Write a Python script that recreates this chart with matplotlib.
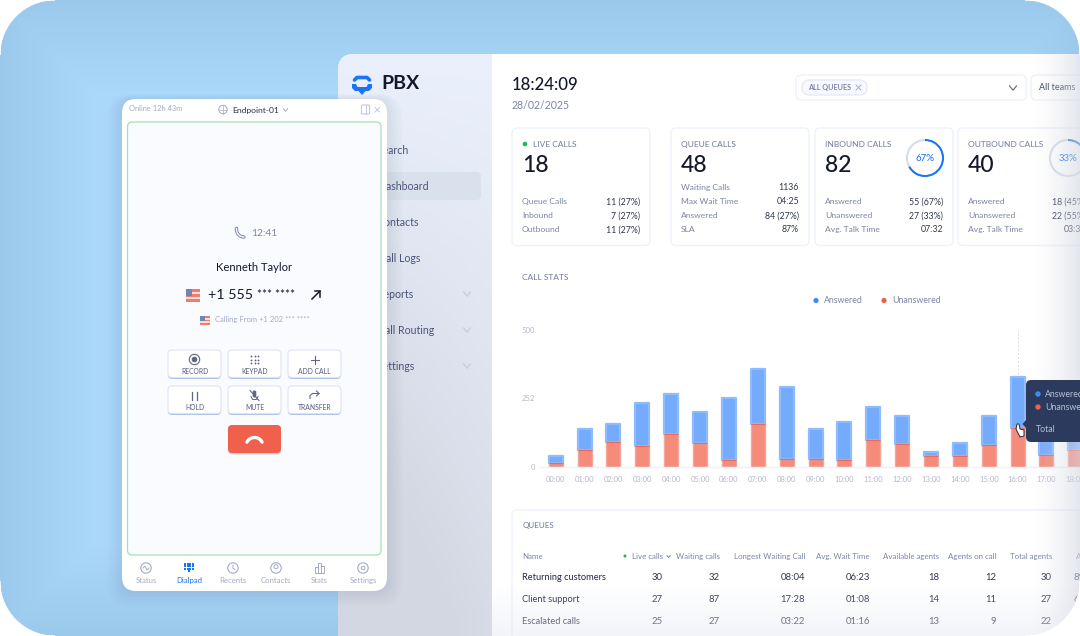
import numpy as np
import matplotlib
matplotlib.use('Agg')
import matplotlib.pyplot as plt
from matplotlib.patches import FancyBboxPatch, Circle, Rectangle, Wedge, PathPatch, Polygon
from matplotlib.path import Path

plt.rcParams['font.family'] = ['Lato', 'DejaVu Sans']

# datos del grafico
hours = ['00:00', '01:00', '02:00', '03:00', '04:00', '05:00', '06:00', '07:00', '08:00', '09:00',
         '10:00', '11:00', '12:00', '13:00', '14:00', '15:00', '16:00', '17:00', '18:00']
answered = [24, 77, 67, 156, 147, 113, 226, 198, 264, 109, 140, 120, 103, 13, 49, 107, 185, 150, 120]
unanswered = [15, 60, 90, 75, 120, 88, 23, 157, 27, 27, 23, 97, 82, 40, 39, 78, 142, 43, 61]
y_ticks = [0, 252, 500]

# tarjetas
live_rows = [('Queue Calls', '11 (27%)'), ('Inbound', '7 (27%)'), ('Outbound', '11 (27%)')]
queue_rows = [('Waiting Calls', '1136'), ('Max Wait Time', '04:25'), ('Answered', '84 (27%)'), ('SLA', '87%')]
inbound_rows = [('Answered', '55 (67%)'), ('Unanswered', '27 (33%)'), ('Avg. Talk Time', '07:32')]
outbound_rows = [('Answered', '18 (45%)'), ('Unanswered', '22 (55%)'), ('Avg. Talk Time', '03:32')]

# tabla de colas
table_head = ['Live calls', 'Waiting calls', 'Longest Waiting Call', 'Avg. Wait Time',
              'Available agents', 'Agents on call', 'Total agents']
table_names = ['Returning customers', 'Client support', 'Escalated calls']
table_rows = [['30', '32', '08:04', '06:23', '18', '12', '30'],
              ['27', '87', '17:28', '01:08', '14', '11', '27'],
              ['25', '27', '03:22', '01:16', '13', '9', '22']]
table_last = ['89%', '67%', '']

# menu lateral
menu_items = ['Search', 'Dashboard', 'Contacts', 'Call Logs', 'Reports', 'Call Routing', 'Settings']
menu_ends = [409, 429, 419, 420, 413, 434, 415]

# telefono
phone_buttons = ['RECORD', 'KEYPAD', 'ADD CALL', 'HOLD', 'MUTE', 'TRANSFER']
nav_items = ['Status', 'Dialpad', 'Recents', 'Contacts', 'Stats', 'Settings']

INK = '#14182B'
GREY = '#7C84A3'
LIGHT = '#A4ABC4'
BORDER = '#EEF2FB'
BLUE = '#1B74F5'
RED = '#F0604C'

W, H = 1080, 636
fig = plt.figure(figsize=(W / 100, H / 100), dpi=100, facecolor='white')


def pixel_axes(z):
    ax = fig.add_axes([0, 0, 1, 1], zorder=z)
    ax.set_xlim(0, W)
    ax.set_ylim(H, 0)
    ax.axis('off')
    ax.patch.set_alpha(0)
    return ax


bg = pixel_axes(1)
top = pixel_axes(3)


def box(ax, x0, y0, x1, y1, r, fc, ec='none', lw=0.0, z=2, alpha=None):
    p = FancyBboxPatch((x0 + r, y0 + r), x1 - x0 - 2 * r, y1 - y0 - 2 * r,
                       boxstyle='round,pad=%f,rounding_size=%f' % (r, r),
                       fc=fc, ec=ec, lw=lw, zorder=z, alpha=alpha)
    ax.add_patch(p)
    return p


def txt(ax, x, y, s, size=6.0, color=GREY, ha='left', weight='normal', z=5, **kw):
    return ax.text(x, y + 0.8, s, fontsize=size, color=color, ha=ha, va='center', weight=weight, zorder=z, **kw)


def chevron(ax, x, y, w=3.5, h=2.2, color=LIGHT, lw=0.9, z=5):
    ax.plot([x - w, x, x + w], [y - h, y + h, y - h], color=color, lw=lw, zorder=z, solid_capstyle='round')


def hexcol(c):
    return np.array(matplotlib.colors.to_rgb(c))


# fondo azul con el borde algo mas oscuro
yy, xx = np.mgrid[0:H, 0:W]
edge = np.minimum.reduce([xx, W - xx, yy, H - yy]) / 90.0
edge = np.clip(edge, 0, 1)[..., None]
img = hexcol('#9AC9EC') * (1 - edge) + hexcol('#AAD8FB') * edge
bg_im = bg.imshow(img, extent=(0, W, H, 0), zorder=0, aspect='auto')

# panel principal
panel = box(bg, 338, 54, 1200, 800, 16, '#FFFFFF', z=1)

# barra lateral con la sombra del telefono
sx = np.clip((xx - 338) / 154.0, 0, 1)
sy = np.clip((yy - 54) / 560.0, 0, 1)
shade = np.clip(sy * 1.25 * (1 - 0.55 * np.abs(sx - 0.35)), 0, 1)[..., None]
side = hexcol('#EAF0FC') * (1 - shade) + hexcol('#D2D7E2') * shade
side_im = bg.imshow(side, extent=(0, W, H, 0), zorder=1.5, aspect='auto')
side_clip = FancyBboxPatch((354, 70), 200, 800, boxstyle='round,pad=16,rounding_size=16',
                           transform=bg.transData, fc='none', ec='none')
bg.add_patch(side_clip)
side_im.set_clip_path(side_clip)
bg.add_patch(Rectangle((492, 54), 700, 600, fc='white', ec='none', zorder=1.8))

# logo
bg.plot([354.5, 357, 367, 369.5], [80, 77.5, 77.5, 80], color=BLUE, lw=2.6, zorder=4, solid_capstyle='round')
bg.add_patch(Polygon([[352, 84], [356, 84], [357.5, 87], [366.5, 87], [368, 84], [372, 84], [372, 88], [369, 91],
                      [365.5, 91], [362, 95], [358.5, 91], [355, 91], [352, 88]], fc=BLUE, ec='none', zorder=4))
txt(bg, 381, 82.8, 'PBX', size=14, color=INK, weight='bold')

# menu
box(bg, 345, 172, 481, 200, 5, '#D9E1ED', z=3)
for i, item in enumerate(menu_items):
    txt(bg, menu_ends[i], 150 + 36 * i - 0.5, item, size=7.6, color='#4B5478', ha='right')
    if item in ('Reports', 'Call Routing', 'Settings'):
        chevron(bg, 467, 150 + 36 * i, color='#C6CCDC')

# cabecera
txt(bg, 512, 84.5, '18:24:09', size=12.1, color=INK, weight='medium')
txt(bg, 512, 104.5, '28/02/2025', size=7.6, color=GREY)
box(bg, 796, 75, 1026, 100, 5, 'white', BORDER, 1.0)
box(bg, 802, 80, 867, 95, 7.5, '#F7F9FE', '#E3E8F5', 0.9, z=3)
txt(bg, 808, 87, 'ALL QUEUES', size=5.2, color=GREY, weight='bold')
bg.plot([856, 861], [85, 90], color=LIGHT, lw=0.7, zorder=5)
bg.plot([856, 861], [90, 85], color=LIGHT, lw=0.7, zorder=5)
chevron(bg, 1013, 88, w=3.6, h=2.2, color='#5A6280', lw=0.8)
box(bg, 1031, 75, 1100, 100, 5, 'white', BORDER, 1.0)
txt(bg, 1039, 87, 'All teams', size=6.5, color='#3A4160')


def card(x, title, big, rows, dot=False, ring=None):
    box(bg, x, 128, x + 138, 245.5, 5, 'white', BORDER, 1.0)
    tx = x + 10
    if dot:
        bg.add_patch(Circle((x + 13, 144), 2.3, fc='#1EB85A', ec='none', zorder=5))
        tx = x + 21
    txt(bg, tx, 144, title, size=6.0, color=GREY, weight='medium')
    txt(bg, x + 10, 164.5, big, size=16.5, color=INK, weight='medium')
    y = 229.7 - 14 * (len(rows) - 1)
    for name, value in rows:
        txt(bg, x + 10, y - 0.6, name, size=6.1, color=GREY)
        txt(bg, x + 128, y - 0.6, value, size=6.3, color='#31374F', ha='right')
        y += 14
    if ring is not None:
        cx, cy = x + 110, 158
        bg.add_patch(Wedge((cx, cy), 19, 0, 360, width=2.0, fc='#D3DCEA', ec='none', zorder=4))
        # eje y invertido: los angulos van en sentido horario
        bg.add_patch(Wedge((cx, cy), 19, -90, -90 + 3.6 * ring, width=2.0, fc=BLUE, ec='none', zorder=5))
        txt(bg, cx, cy - 0.5, '%d%%' % ring, size=6.9, color=BLUE, ha='center', weight='medium')


card(512, 'LIVE CALLS', '18', live_rows, dot=True)
card(671, 'QUEUE CALLS', '48', queue_rows)
card(815, 'INBOUND CALLS', '82', inbound_rows, ring=67)
card(958, 'OUTBOUND CALLS', '40', outbound_rows, ring=33)

# grafico de llamadas
txt(bg, 522.5, 276.8, 'CALL STATS', size=6.0, color=GREY, weight='medium')
bg.add_patch(Circle((816, 300.5), 2.6, fc='#3C8CF8', ec='none', zorder=5))
txt(bg, 824, 299.8, 'Answered', size=6.3, color=GREY)
bg.add_patch(Circle((884, 300.5), 2.6, fc=RED, ec='none', zorder=5))
txt(bg, 892, 299.8, 'Unanswered', size=6.3, color=GREY)

ax_left, ax_right, ax_top, ax_bottom = 540, 1080, 320, 466.7
x0, step, per_unit = 555.7, 28.87, 0.274
ax = fig.add_axes([ax_left / W, 1 - ax_bottom / H, (ax_right - ax_left) / W, (ax_bottom - ax_top) / H], zorder=2)
ax.patch.set_alpha(0)
ax.set_xlim((ax_left - x0) / step, (ax_right - x0) / step)
ax.set_ylim(0, (ax_bottom - ax_top) / per_unit)
pos = np.arange(len(hours))
bar_w = 14 / step
ax.bar(pos, unanswered, width=bar_w, color='#F48B7B', edgecolor='#F3A79B', linewidth=1.0)
ax.bar(pos, answered, bottom=unanswered, width=bar_w, color='#75ABFC', edgecolor='#8FBCFD', linewidth=1.6,
       joinstyle='round')
ax.hlines(unanswered, pos - bar_w / 2, pos + bar_w / 2, color='#EE6A58', lw=0.9, zorder=3)
ax.set_xticks(pos, hours)
ax.set_yticks(y_ticks, [str(v) for v in y_ticks])
ax.tick_params(length=0, labelcolor='#B3B9CE', labelsize=5.5)
ax.tick_params(axis='x', pad=7)
ax.tick_params(axis='y', pad=3.8)
for s in ('top', 'right', 'left'):
    ax.spines[s].set_visible(False)
ax.spines['bottom'].set_color('#EEF1F8')
ax.spines['bottom'].set_linewidth(1.0)
ax.vlines(hours.index('16:00'), 340, 500, color='#D5DCEB', lw=0.7, linestyles=(0, (2, 2)), zorder=0)

# tabla
box(bg, 512, 510, 1200, 760, 5, 'white', BORDER, 1.0)
txt(bg, 522.5, 525, 'QUEUES', size=5.8, color=GREY, weight='medium')
txt(bg, 522.5, 556, 'Name', size=5.7, color=GREY)
head_right = [663, 720, 805, 870, 939, 996, 1052]
val_right = [663, 720, 805, 870, 939, 996, 1052]
for j, head in enumerate(table_head):
    txt(bg, head_right[j], 556, head, size=5.7, color=GREY, ha='right')
bg.add_patch(Circle((625, 556), 1.5, fc='#1EB85A', ec='none', zorder=5))
chevron(bg, 668.5, 556.5, w=1.7, h=1.0, color=GREY, lw=0.7)
txt(bg, 1076, 556, 'A', size=5.7, color=GREY)
for i, name in enumerate(table_names):
    y = 577 + 22 * i
    txt(bg, 522.5, y - 0.5, name, size=6.7, color='#23283F')
    for j, v in enumerate(table_rows[i]):
        txt(bg, val_right[j], y - 0.5, v, size=6.9, color='#31374F', ha='right')
    txt(bg, 1073, y - 0.5, table_last[i], size=6.9, color='#31374F')

# sombreado a la derecha y abajo del panel
fade_x = np.linspace(0, 1, 50)[None, :, None]
fade = np.concatenate([np.broadcast_to(hexcol('#D3D7E0'), (1, 50, 3)), fade_x ** 1.5 * 0.6], axis=2)
top.imshow(fade, extent=(1030, 1080, 636, 54), zorder=4, aspect='auto')
fade_y = np.linspace(0, 1, 50)[:, None, None]
fade2 = np.concatenate([np.broadcast_to(hexcol('#E6EAF3'), (50, 1, 3)), fade_y * 0.5], axis=2)
top.imshow(fade2, extent=(492, 1080, 636, 586), zorder=3.5, aspect='auto')
top.set_xlim(0, W)
top.set_ylim(H, 0)

# tooltip
box(top, 1026, 380, 1100, 442, 5, '#2C3A5E', z=6)
top.add_patch(Polygon([[1026, 420], [1022.5, 424], [1026, 428]], fc='#2C3A5E', ec='none', zorder=6))
top.add_patch(Circle((1038, 394), 2.7, fc='#3C8CF8', ec='none', zorder=7))
txt(top, 1045, 393.7, 'Answered', size=6.3, color='#B9C0D6', z=7)
top.add_patch(Circle((1038, 407), 2.7, fc=RED, ec='none', zorder=7))
txt(top, 1045, 407, 'Unanswered', size=6.3, color='#B9C0D6', z=7)
txt(top, 1036, 428.5, 'Total', size=6.3, color='#B9C0D6', z=7)
# cursor de mano
top.add_patch(Polygon([[1017, 424], [1019, 424], [1020, 429], [1024, 430], [1024, 436], [1020, 437],
                       [1018, 433], [1016, 429]], fc='white', ec='#22283C', lw=0.7, zorder=8))

# telefono
for k in range(6):
    box(bg, 122 - 3 * k, 99 - 1 * k, 387 + 3 * k, 591 + 3 * k, 14 + 2 * k, '#44547A', z=5.5, alpha=0.018)
box(bg, 122, 99, 387, 591, 14, 'white', z=6)
box(bg, 127.5, 122, 381, 555, 5, '#F9FBFF', '#A6E0B5', 0.9, z=6.2)
Z = 7
txt(bg, 129, 107.8, 'Online 12h 43m', size=5.4, color=LIGHT, z=Z)
bg.add_patch(Circle((223, 109.5), 4.2, fc='none', ec=LIGHT, lw=0.7, zorder=Z))
bg.plot([218.8, 227.2], [109.5, 109.5], color=LIGHT, lw=0.5, zorder=Z)
bg.plot([223, 223], [105.3, 113.7], color=LIGHT, lw=0.5, zorder=Z)
txt(bg, 232, 109.5, 'Endpoint-01', size=6.1, color='#2B3048', z=Z)
chevron(bg, 285.5, 110, w=2.2, h=1.3, z=Z, lw=0.7)
box(bg, 361.5, 105, 369.5, 114, 1.3, 'none', '#C3C9DA', 0.8, z=Z)
bg.plot([366, 366], [105, 114], color='#C3C9DA', lw=0.7, zorder=Z)
bg.plot([375, 379.5], [107.5, 112], color='#C3C9DA', lw=0.7, zorder=Z)
bg.plot([375, 379.5], [112, 107.5], color='#C3C9DA', lw=0.7, zorder=Z)

# auricular pequeno, trazo claro sobre trazo oscuro para dejar solo el contorno
t = np.linspace(np.pi * 0.5, np.pi * 1.05, 20)
bg.plot(244 + 7.5 * np.cos(t), 229.5 + 7.5 * np.sin(t), color=GREY, lw=2.4, zorder=Z, solid_capstyle='round')
bg.plot(244 + 7.5 * np.cos(t), 229.5 + 7.5 * np.sin(t), color='#F9FBFF', lw=1.0, zorder=Z, solid_capstyle='round')
txt(bg, 251, 232.5, '12:41', size=7.3, color=GREY, z=Z)
txt(bg, 254.5, 266.5, 'Kenneth Taylor', size=8.1, color=INK, ha='center', z=Z)
txt(bg, 208, 294.5, '+1 555', size=10.3, color=INK, z=Z)
txt(bg, 257, 293.5, '*** ****', size=8.6, color=INK, z=Z)
bg.plot([312, 320], [299, 291], color=INK, lw=1.1, zorder=Z)
bg.plot([314.5, 320, 320], [291, 291, 296.5], color=INK, lw=1.1, zorder=Z)


def flag(x0f, y0f, x1f, y1f):
    h = (y1f - y0f) / 5.0
    bg.add_patch(Rectangle((x0f, y0f), x1f - x0f, y1f - y0f, fc='#F8D9D3', ec='none', zorder=Z))
    for n in range(3):
        bg.add_patch(Rectangle((x0f, y0f + 2 * n * h), x1f - x0f, h, fc='#EE7D70', ec='none', zorder=Z))
    bg.add_patch(Rectangle((x0f, y0f), (x1f - x0f) * 0.45, h * 2.6, fc='#6F86B5', ec='none', zorder=Z))


flag(186, 289, 200, 302)
flag(200, 316, 210, 325)
txt(bg, 215, 319, 'Calling From +1 202 *** ****', size=5.5, color=LIGHT, z=Z)

# botones
btn_x = [168, 228, 288]
btn_y = [350, 386]
for i, label in enumerate(phone_buttons):
    bx, by = btn_x[i % 3], btn_y[i // 3]
    box(bg, bx, by + 1.5, bx + 53, by + 29, 4, '#AFC2E8', z=Z)
    box(bg, bx, by, bx + 53, by + 27.5, 4, 'white', '#DDE4F3', 0.8, z=Z + 0.1)
    txt(bg, bx + 26.5, by + 20.5, label, size=4.9, color='#5F6785', ha='center', weight='medium', z=Z + 0.2)
    ix, iy = bx + 26.5, by + 9.5
    if label == 'RECORD':
        bg.add_patch(Circle((ix, iy), 5.2, fc='none', ec='#5F6785', lw=0.8, zorder=Z + 0.2))
        bg.add_patch(Circle((ix, iy), 2.8, fc='#5F6785', ec='none', zorder=Z + 0.2))
    elif label == 'KEYPAD':
        gx, gy = np.meshgrid([-3.5, 0, 3.5], [-3.5, 0, 3.5])
        bg.scatter(ix + gx.ravel(), iy + gy.ravel(), s=1.8, color='#5F6785', lw=0, zorder=Z + 0.2)
    elif label == 'ADD CALL':
        bg.plot([ix - 4, ix + 4], [iy, iy], color='#5F6785', lw=0.8, zorder=Z + 0.2)
        bg.plot([ix, ix], [iy - 4, iy + 4], color='#5F6785', lw=0.8, zorder=Z + 0.2)
    elif label == 'HOLD':
        bg.plot([ix - 2.5, ix - 2.5], [iy - 4, iy + 4], color='#5F6785', lw=0.9, zorder=Z + 0.2)
        bg.plot([ix + 2.5, ix + 2.5], [iy - 4, iy + 4], color='#5F6785', lw=0.9, zorder=Z + 0.2)
    elif label == 'MUTE':
        box(bg, ix - 1.8, iy - 5, ix + 1.8, iy + 2, 1.6, '#5F6785', z=Z + 0.2)
        bg.plot([ix - 4.5, ix + 4.5], [iy - 5, iy + 5], color='#5F6785', lw=0.8, zorder=Z + 0.3)
        bg.plot([ix - 3.5, ix - 2, ix + 2, ix + 3.5], [iy + 1, iy + 4, iy + 4, iy + 1], color='#5F6785', lw=0.7,
                zorder=Z + 0.2)
    else:
        bg.plot([ix - 4.5, ix - 4.5, ix - 2, ix + 4.5], [iy + 3, iy, iy - 2, iy - 2], color='#5F6785', lw=0.8,
                zorder=Z + 0.2)
        bg.plot([ix + 2, ix + 4.5, ix + 2], [iy - 4.5, iy - 2, iy + 0.5], color='#5F6785', lw=0.8, zorder=Z + 0.2)

# colgar
box(bg, 228, 426, 281, 454.5, 4, '#C9D5EE', z=Z)
box(bg, 228, 425, 281, 453, 4, RED, z=Z + 0.1)
t = np.linspace(np.pi * 1.15, np.pi * 1.85, 20)
bg.plot(254.5 + 8.5 * np.cos(t), 446 + 8.5 * np.sin(t), color='white', lw=2.4, zorder=Z + 0.2,
        solid_capstyle='round')

# navegacion inferior
nav_x = [146, 189, 233, 276, 319.5, 363]
for i, label in enumerate(nav_items):
    c = BLUE if label == 'Dialpad' else LIGHT
    txt(bg, nav_x[i], 579.5, label, size=5.6, color=c, ha='center', z=Z)
    nx, ny = nav_x[i], 568
    if label == 'Dialpad':
        gx, gy = np.meshgrid([-3.6, -1.2, 1.2, 3.6], [-4, -1.6, 0.8])
        bg.scatter(nx + gx.ravel(), ny + gy.ravel(), s=3.2, marker='s', color=c, lw=0, zorder=Z)
        bg.scatter([nx], [ny + 3.4], s=3.2, marker='s', color=c, lw=0, zorder=Z)
    elif label == 'Stats':
        for dx, hh in [(-4.5, 6.5), (-1.5, 10), (1.5, 7.5)]:
            bg.add_patch(Rectangle((nx + dx, ny + 5 - hh), 3, hh, fc='none', ec=c, lw=0.7, zorder=Z))
    else:
        bg.add_patch(Circle((nx, ny), 5.2, fc='none', ec=c, lw=0.8, zorder=Z))
        if label == 'Status':
            bg.plot([nx - 3, nx - 1, nx + 1, nx + 3], [ny, ny - 2, ny + 2, ny], color=c, lw=0.7, zorder=Z)
        elif label == 'Recents':
            bg.plot([nx, nx, nx + 2], [ny - 3, ny, ny + 1.5], color=c, lw=0.7, zorder=Z)
        elif label == 'Contacts':
            bg.add_patch(Circle((nx, ny - 1.3), 2, fc='none', ec=c, lw=0.7, zorder=Z))
        else:
            bg.add_patch(Circle((nx, ny), 1.8, fc='none', ec=c, lw=0.7, zorder=Z))

# esquinas blancas de la imagen
R = 55
k = 0.5523 * R
corners = [((0, 0), (1, 1)), (('w', 0), (-1, 1)), ((0, 'h'), (1, -1)), (('w', 'h'), (-1, -1))]
for (cx, cy), (dx, dy) in corners:
    px = W if cx == 'w' else 0
    py = H if cy == 'h' else 0
    verts = [(px, py), (px + dx * R, py), (px + dx * (R - k), py), (px, py + dy * (R - k)), (px, py + dy * R), (px, py)]
    codes = [Path.MOVETO, Path.LINETO, Path.CURVE4, Path.CURVE4, Path.CURVE4, Path.CLOSEPOLY]
    top.add_patch(PathPatch(Path(verts, codes), fc='white', ec='white', lw=0.5, zorder=20))

fig.savefig('out.png', dpi=100, facecolor='white')
